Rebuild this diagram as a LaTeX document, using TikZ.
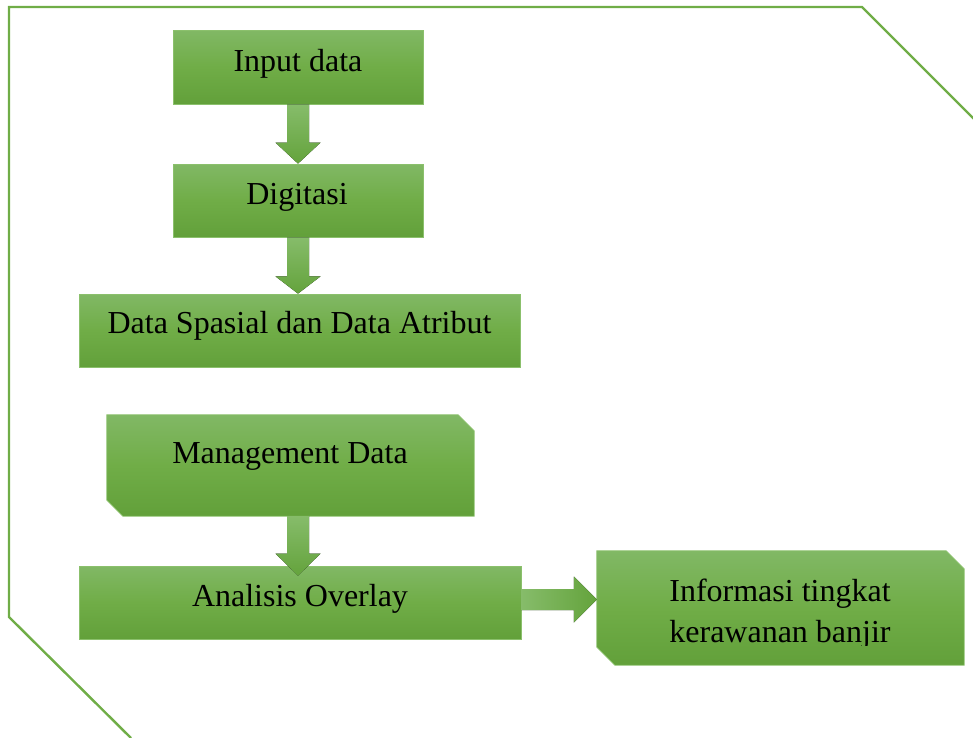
\documentclass[tikz,border=0pt]{standalone}
\usepackage{fontspec}
\setmainfont{Liberation Serif}
\usetikzlibrary{calc}

\definecolor{gTop}{HTML}{81B865}
\definecolor{gMid}{HTML}{70AD47}
\definecolor{gBot}{HTML}{62A03A}
\definecolor{gEdge}{HTML}{8BC06C}
\definecolor{frameGreen}{HTML}{70AD47}
\definecolor{arLight}{HTML}{86BC6A}
\definecolor{arDark}{HTML}{64A33C}

% fill a node's rectangle with its top-right and bottom-left corners snipped off
\newcommand\snipshape[2]{%
  \path[boxshade] (#1.north west) -- ($(#1.north east)+(-#2,0)$)
    -- ($(#1.north east)+(0,#2)$) -- (#1.south east)
    -- ($(#1.south west)+(#2,0)$) -- ($(#1.south west)+(0,-#2)$) -- cycle;}

\begin{document}
\begin{tikzpicture}[x=1pt,y=-1pt,
  boxshade/.style={top color=gTop, bottom color=gBot, middle color=gMid,
    draw=gEdge, line width=0.8pt},
  plainbox/.style={boxshade, rectangle, inner sep=0pt},
  snipbox/.style={rectangle, inner sep=0pt},
  lbl/.style={font=\fontsize{32}{41}\selectfont, anchor=base, inner sep=0pt},
  varrow/.style={top color=arLight, bottom color=arDark},
  harrow/.style={left color=arLight, right color=arDark},
  frameline/.style={draw=frameGreen, line width=2.4pt, line join=miter}
]
\useasboundingbox (0,0) rectangle (973,737);

% outer frame with two cut corners
\draw[frameline] (131,738) -- (9,617) -- (9,7) -- (862,7) -- (974,119);

% process boxes
\node[plainbox, minimum width=250pt, minimum height=74pt] (input)   at (298,67)    {};
\node[plainbox, minimum width=250pt, minimum height=73pt] (digit)   at (298,200.5) {};
\node[plainbox, minimum width=441pt, minimum height=73pt] (spasial) at (299.5,330.5) {};
\node[snipbox,  minimum width=367pt, minimum height=101pt] (mgmt)   at (290.5,465.5) {};
\snipshape{mgmt}{16}
\node[plainbox, minimum width=442pt, minimum height=73pt] (overlay) at (300,602.5) {};
\node[snipbox,  minimum width=367pt, minimum height=114pt] (info) at (780.5,608) {};
\snipshape{info}{18}

% block arrows
\fill[varrow] ($(input.south)+(-11,0)$) -- ($(input.south)+(11,0)$)
  -- ($(digit.north)+(11,-21)$) -- ($(digit.north)+(22.5,-21)$) -- (digit.north)
  -- ($(digit.north)+(-22.5,-21)$) -- ($(digit.north)+(-11,-21)$) -- cycle;
\fill[varrow] ($(digit.south)+(-11,0)$) -- ($(digit.south)+(11,0)$)
  -- ($(digit.south)+(11,39)$) -- ($(digit.south)+(22.5,39)$) -- (spasial.north -| digit.south)
  -- ($(digit.south)+(-22.5,39)$) -- ($(digit.south)+(-11,39)$) -- cycle;
\coordinate (mgtip) at ($(overlay.north)+(-2,10)$);
\fill[varrow] ($(mgmt.south -| mgtip)+(-11,0)$) -- ($(mgmt.south -| mgtip)+(11,0)$)
  -- ($(mgtip)+(11,-22)$) -- ($(mgtip)+(22.5,-22)$) -- (mgtip)
  -- ($(mgtip)+(-22.5,-22)$) -- ($(mgtip)+(-11,-22)$) -- cycle;
\coordinate (inftip) at (info.west |- 0,599.5);
\fill[harrow] ($(overlay.east |- inftip)+(0,-10.5)$) -- ($(inftip)+(-23,-10.5)$)
  -- ($(inftip)+(-23,-23)$) -- (inftip) -- ($(inftip)+(-23,23)$)
  -- ($(inftip)+(-23,10.5)$) -- ($(overlay.east |- inftip)+(0,10.5)$) -- cycle;

% labels
\node[lbl] (tinput)   at (298,71)    {Input data};
\node[lbl] (tdigit)   at (297,204)   {Digitasi};
\node[lbl] (tspasial) at (299.5,333) {Data Spasial dan Data Atribut};
\node[lbl] (tmgmt)    at (290,463)   {Management Data};
\node[lbl] (toverlay) at (300,606)   {Analisis Overlay};
\begin{scope}
  \clip (info.north west) rectangle ($(info.south east)+(0,-20)$);
  \node[lbl, align=center] (tinfo) at (780,642) {Informasi tingkat\\kerawanan banjir};
\end{scope}
\end{tikzpicture}
\end{document}
